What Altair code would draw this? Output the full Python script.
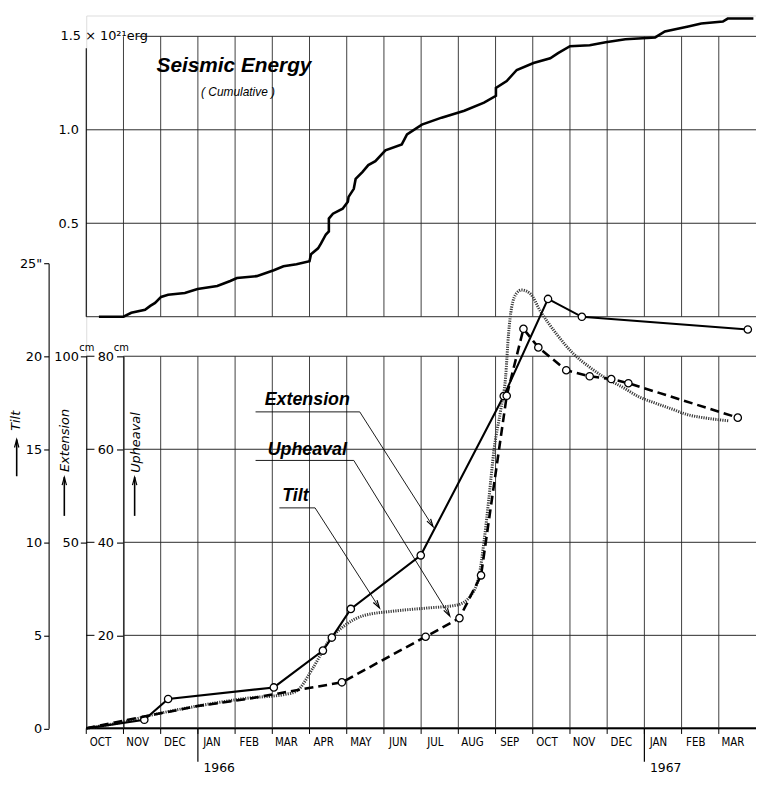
import math
import altair as alt
import pandas as pd

# ------------------------------------------------------------------ data
month_labels = ["OCT", "NOV", "DEC", "JAN", "FEB", "MAR", "APR", "MAY", "JUN",
                "JUL", "AUG", "SEP", "OCT", "NOV", "DEC", "JAN", "FEB", "MAR"]
year_labels = ["1966", "1967"]
year_start_month = [3, 15]          # months after 1 Oct 1965

# cumulative seismic energy (10^21 erg) vs months after 1 Oct 1965
seis_month = [0.34, 1.0, 1.21, 1.58, 1.72, 1.85, 2.01, 2.20, 2.65, 2.99, 3.52, 3.87,
              4.05, 4.58, 5.04, 5.30, 5.65, 6.0, 6.04, 6.23, 6.31, 6.44, 6.52, 6.52,
              6.63, 6.89, 7.03, 7.05, 7.19, 7.24, 7.42, 7.58, 7.77, 8.04, 8.48, 8.62,
              9.02, 9.55, 10.16, 10.69, 11.01, 11.01, 11.30, 11.57, 12.02, 12.47, 12.68,
              13.0, 13.53, 13.96, 14.49, 15.29, 15.55, 16.18, 16.53, 17.11, 17.24, 17.93]
seis_energy = [0.0, 0.0, 0.021, 0.037, 0.058, 0.074, 0.106, 0.117, 0.127, 0.148, 0.164,
               0.191, 0.207, 0.217, 0.249, 0.270, 0.281, 0.297, 0.334, 0.366, 0.392,
               0.440, 0.456, 0.525, 0.551, 0.578, 0.615, 0.641, 0.684, 0.737, 0.774,
               0.811, 0.832, 0.890, 0.922, 0.975, 1.028, 1.065, 1.102, 1.145, 1.182,
               1.224, 1.261, 1.320, 1.357, 1.383, 1.410, 1.447, 1.452, 1.468, 1.484,
               1.494, 1.526, 1.553, 1.569, 1.579, 1.595, 1.595]

# tilt (seconds of arc)
tilt_month = [0.0, 1.0, 1.66, 2.99, 4.32, 5.38, 5.65, 6.10, 6.52, 6.97, 7.42, 8.30,
              9.18, 9.97, 10.34, 10.56, 10.69, 10.82, 10.96, 11.14, 11.27, 11.35, 11.43,
              11.57, 11.70, 11.94, 12.20, 12.63, 13.08, 13.53, 13.96, 14.41, 14.86,
              15.28, 15.73, 16.18, 16.61, 17.27]
tilt_sec = [0.0, 0.35, 0.67, 1.20, 1.62, 1.84, 2.0, 3.27, 4.71, 5.56, 6.04, 6.31, 6.47,
            6.63, 7.16, 8.23, 10.04, 12.33, 14.99, 17.12, 18.88, 21.22, 22.6, 23.4,
            23.56, 23.35, 22.44, 21.22, 20.16, 19.41, 18.82, 18.34, 17.81, 17.49, 17.17,
            16.85, 16.69, 16.53]

# extension (cm)
ext_month = [0.0, 1.56, 2.20, 5.04, 6.36, 6.60, 7.11, 8.99, 11.22, 12.41, 13.32, 17.78]
ext_cm = [0.0, 2.3, 7.9, 11.0, 20.9, 24.4, 32.1, 46.5, 89.3, 115.4, 110.6, 107.2]
ext_observed = [1, 2, 3, 4, 5, 6, 7, 8, 9, 10, 11]

# upheaval (cm)
uph_month = [0.0, 1.66, 2.99, 4.32, 5.65, 6.87, 9.12, 10.03, 10.61, 11.30, 11.75,
             12.15, 12.90, 13.53, 14.11, 14.57, 17.51]
uph_cm = [0.0, 2.7, 4.8, 6.3, 8.2, 9.9, 19.7, 23.7, 32.9, 71.5, 85.9, 81.9, 77.0,
          75.7, 75.1, 74.2, 66.8]
uph_observed = [5, 6, 7, 8, 9, 10, 11, 12, 13, 14, 15, 16]

# annotation labels with leader lines (months, tilt units)
leader_names = ["Extension", "Upheaval", "Tilt"]
leader_text_pos = [(5.94, 17.65), (5.94, 14.98), (5.62, 12.49)]
leader_paths = [[(4.55, 17.01), (7.35, 17.01), (9.32, 10.84)],
                [(4.55, 14.40), (7.19, 14.40), (9.77, 6.04)],
                [(5.19, 11.85), (6.15, 11.85), (7.88, 6.47)]]

# rotated axis captions with upward arrows (months, tilt units)
caption_text = ["Tilt", "Extension", "Upheaval"]
caption_month = [-1.89, -0.56, 1.33]
caption_tilt = [16.53, 15.47, 15.36]
arrow_month = [-1.87, -0.59, 1.30]
arrow_from = [13.55, 11.42, 11.42]
arrow_to = [15.52, 13.50, 13.50]

# ------------------------------------------------------------------ geometry / style
W, H = 676, 720
PXM = W / 18.0
Y0 = 719.5
K = 18.78                      # px per tilt unit
INK = "#000000"
GRID = "#2a2a2a"
NUMF = "DejaVu Sans"
LBLF = "Liberation Sans"

xs = alt.Scale(domain=[0, 18], nice=False, zero=False)
x_axis = alt.Axis(values=[i + 0.5 for i in range(18)],
                  labelExpr="%s[floor(datum.value)]" % str(month_labels),
                  ticks=False, domain=False, grid=False, labelPadding=8,
                  labelOffset=-5, labelFlush=False, labelOverlap=False,
                  labelFont="DejaVu Sans Condensed", labelFontSize=11.5,
                  labelColor=INK, title=None)


def X(f):
    return alt.X(f, type="quantitative", scale=xs, axis=x_axis)


def X2(f):
    return alt.X2(f)


seis_scale = alt.Scale(domain=[0, 1.5], range=[304, 21], nice=False, zero=False)
tilt_scale = alt.Scale(domain=[0, 25], range=[Y0, Y0 - 25 * K], nice=False, zero=False)
ext_scale = alt.Scale(domain=[0, 100], range=[Y0, Y0 - 20 * K], nice=False, zero=False)
uph_scale = alt.Scale(domain=[0, 80], range=[Y0, Y0 - 20 * K], nice=False, zero=False)

common_ax = dict(orient="left", grid=False, labelFont=NUMF, labelFontSize=13,
                 labelColor=INK, labelOverlap=False, labelFlush=False,
                 domainColor=INK, tickColor=INK, domainWidth=1.1, tickWidth=1.1,
                 title=None)

seis_axis = alt.Axis(values=[0.5, 1.0], format=".1f", offset=-1, domain=False,
                     ticks=False, labelPadding=9, **common_ax)
tilt_axis = alt.Axis(values=[0, 5, 10, 15, 20, 25],
                     labelExpr="datum.value == 25 ? '25\"' : datum.label",
                     offset=38, domain=True, ticks=True, tickSize=5, labelPadding=2,
                     **common_ax)
ext_axis = alt.Axis(values=[50, 100], offset=0, domain=True, ticks=True, tickSize=6,
                    labelPadding=2, **common_ax)
uph_axis = alt.Axis(values=[20, 40, 60, 80], offset=-PXM, domain=True, ticks=True,
                    tickSize=7, labelPadding=3, **common_ax)


def YS(f):
    return alt.Y(f, type="quantitative", scale=seis_scale, axis=seis_axis)


def YT(f):
    return alt.Y(f, type="quantitative", scale=tilt_scale, axis=tilt_axis)


def YE(f):
    return alt.Y(f, type="quantitative", scale=ext_scale, axis=ext_axis)


def YU(f):
    return alt.Y(f, type="quantitative", scale=uph_scale, axis=uph_axis)


# ------------------------------------------------------------------ seismic panel
s_hgrid = pd.DataFrame({"e": [0.0, 0.5, 1.0, 1.5], "a": [0, 0, 0, 1.36], "b": [18] * 4})
s_vgrid = pd.DataFrame({"m": list(range(1, 18)), "e0": [0.0] * 17, "e1": [1.5] * 17})
s_axisline = pd.DataFrame({"m": [0], "e0": [0.0], "e1": [1.436]})
seis_df = pd.DataFrame({"m": seis_month, "e": seis_energy})
s_text = pd.DataFrame({"m": [3.97], "e": [1.341], "t": ["Seismic Energy"]})
s_text2 = pd.DataFrame({"m": [4.08], "e": [1.203], "t": ["( Cumulative )"]})
s_unit = pd.DataFrame({"m": [-0.69], "e": [1.5], "t": ["1.5 × 10²¹erg"]})

seis_group = alt.layer(
    alt.Chart(s_hgrid).mark_rule(color=GRID, strokeWidth=1).encode(
        x=X("a"), x2=X2("b"), y=YS("e")),
    alt.Chart(s_vgrid).mark_rule(color=GRID, strokeWidth=0.9).encode(
        x=X("m"), y=YS("e0"), y2=alt.Y2("e1")),
    alt.Chart(s_axisline).mark_rule(color=INK, strokeWidth=1.1).encode(
        x=X("m"), y=YS("e0"), y2=alt.Y2("e1")),
    alt.Chart(seis_df).mark_line(color=INK, strokeWidth=2.6, interpolate="linear").encode(
        x=X("m"), y=YS("e")),
    alt.Chart(s_text).mark_text(font=LBLF, fontSize=21, fontWeight="bold",
                                fontStyle="italic", color=INK).encode(
        x=X("m"), y=YS("e"), text="t:N"),
    alt.Chart(s_text2).mark_text(font=LBLF, fontSize=12, fontStyle="italic",
                                 color=INK).encode(x=X("m"), y=YS("e"), text="t:N"),
    alt.Chart(s_unit).mark_text(font=NUMF, fontSize=13, align="left", color=INK).encode(
        x=X("m"), y=YS("e"), text="t:N"),
)

# ------------------------------------------------------------------ lower panel (tilt units)
t_hgrid = pd.DataFrame({"t": [5, 10, 15, 20], "a": [1] * 4, "b": [18] * 4})
t_base = pd.DataFrame({"t": [0], "a": [0], "b": [18]})
t_vgrid = pd.DataFrame({"m": list(range(1, 18)), "t0": [0] * 17, "t1": [20] * 17})
t_ticks = pd.DataFrame({"m": list(range(0, 18)), "t0": [0] * 18, "t1": [-0.3] * 18})
t_years = pd.DataFrame({"m": year_start_month, "t0": [0, 0], "t1": [-1.8, -1.8]})
t_rticks = pd.DataFrame({"t": [5, 10, 15, 20], "a": [0] * 4, "b": [0.22] * 4})
year_df = pd.DataFrame({"m": [m + 0.15 for m in year_start_month], "t": [-2.15, -2.15],
                        "lab": year_labels})
cm_df = pd.DataFrame({"m": [-0.19, 0.74], "t": [20.45, 20.45], "lab": ["cm", "cm"]})
cap_df = pd.DataFrame({"m": caption_month, "t": caption_tilt, "lab": caption_text})
cap_arrow_df = pd.DataFrame({"m": arrow_month, "t0": arrow_from, "t1": arrow_to})
tilt_df = pd.DataFrame({"m": tilt_month, "t": tilt_sec})

lead_rows, head_rows, ltext_rows = [], [], []
for name, (tm, tt), path in zip(leader_names, leader_text_pos, leader_paths):
    for i, (pm, pt) in enumerate(path):
        lead_rows.append({"name": name, "o": i, "m": pm, "t": pt})
    (am, at), (bm, bt) = path[-2], path[-1]
    dx = (bm - am) * PXM
    dy = -(bt - at) * K
    ang = math.degrees(math.atan2(dx, -dy)) % 360
    head_rows.append({"name": name, "m": bm, "t": bt, "ang": ang})
    ltext_rows.append({"name": name, "m": tm, "t": tt})
for m, t1 in zip(arrow_month, arrow_to):
    head_rows.append({"name": "axis", "m": m, "t": t1, "ang": 0.0})
lead_df = pd.DataFrame(lead_rows)
head_df = pd.DataFrame(head_rows)
ltext_df = pd.DataFrame(ltext_rows)

ARROW_PATH = "M-1.1,4 L0,0 L1.1,4"

tilt_group = alt.layer(
    alt.Chart(t_hgrid).mark_rule(color=GRID, strokeWidth=1).encode(
        x=X("a"), x2=X2("b"), y=YT("t")),
    alt.Chart(t_base).mark_rule(color=INK, strokeWidth=2).encode(
        x=X("a"), x2=X2("b"), y=YT("t")),
    alt.Chart(t_vgrid).mark_rule(color=GRID, strokeWidth=0.9).encode(
        x=X("m"), y=YT("t0"), y2=alt.Y2("t1")),
    alt.Chart(t_ticks).mark_rule(color=INK, strokeWidth=1).encode(
        x=X("m"), y=YT("t0"), y2=alt.Y2("t1")),
    alt.Chart(t_years).mark_rule(color=INK, strokeWidth=1.2).encode(
        x=X("m"), y=YT("t0"), y2=alt.Y2("t1")),
    alt.Chart(t_rticks).mark_rule(color=INK, strokeWidth=1).encode(
        x=X("a"), x2=X2("b"), y=YT("t")),
    alt.Chart(year_df).mark_text(font=NUMF, fontSize=12.5, align="left", color=INK).encode(
        x=X("m"), y=YT("t"), text="lab:N"),
    alt.Chart(cm_df).mark_text(font=NUMF, fontSize=10, align="left", color=INK).encode(
        x=X("m"), y=YT("t"), text="lab:N"),
    alt.Chart(cap_df).mark_text(font=NUMF, fontSize=13, fontStyle="italic", angle=270,
                                align="center", baseline="middle", color=INK,
                                opacity=0.99).encode(
        x=X("m"), y=YT("t"), text="lab:N"),
    alt.Chart(cap_arrow_df).mark_rule(color=INK, strokeWidth=1.6).encode(
        x=X("m"), y=YT("t0"), y2=alt.Y2("t1")),
    alt.Chart(tilt_df).mark_line(color="#3a3a3a", strokeWidth=3, strokeDash=[1.2, 1.2],
                                 interpolate="monotone").encode(x=X("m"), y=YT("t")),
    alt.Chart(lead_df).mark_line(color=INK, strokeWidth=0.9).encode(
        x=X("m"), y=YT("t"), detail="name:N", order="o:Q"),
    alt.Chart(head_df).mark_point(shape=ARROW_PATH, filled=False, stroke=INK,
                                  strokeWidth=1.2, size=16, opacity=1).encode(
        x=X("m"), y=YT("t"), angle=alt.Angle("ang:Q", scale=None)),
    alt.Chart(ltext_df).mark_text(font=LBLF, fontSize=18, fontWeight="bold",
                                  fontStyle="italic", color=INK).encode(
        x=X("m"), y=YT("t"), text="name:N"),
)

# ------------------------------------------------------------------ extension / upheaval
ext_df = pd.DataFrame({"m": ext_month, "v": ext_cm})
ext_obs_df = ext_df.iloc[ext_observed]
uph_df = pd.DataFrame({"m": uph_month, "v": uph_cm})
uph_obs_df = uph_df.iloc[uph_observed]

circle_style = dict(shape="circle", filled=True, fill="white", stroke=INK,
                    strokeWidth=1.3, size=55, opacity=1)

ext_group = alt.layer(
    alt.Chart(ext_df).mark_line(color=INK, strokeWidth=2.1).encode(x=X("m"), y=YE("v")),
    alt.Chart(ext_obs_df).mark_point(**circle_style).encode(x=X("m"), y=YE("v")),
)
uph_group = alt.layer(
    alt.Chart(uph_df).mark_line(color=INK, strokeWidth=2.6, strokeDash=[9, 5]).encode(
        x=X("m"), y=YU("v")),
    alt.Chart(uph_obs_df).mark_point(**circle_style).encode(x=X("m"), y=YU("v")),
)

chart = alt.layer(seis_group, tilt_group, ext_group, uph_group).resolve_scale(
    y="independent"
).properties(
    width=W, height=H, autosize="none",
    padding={"left": 79, "top": 4, "right": 0, "bottom": 46},
).configure_view(stroke=None).configure_axis(
    labelColor="#000000"
).configure(background="white")

chart.save("out.html", embed_options={"renderer": "svg", "actions": False})
